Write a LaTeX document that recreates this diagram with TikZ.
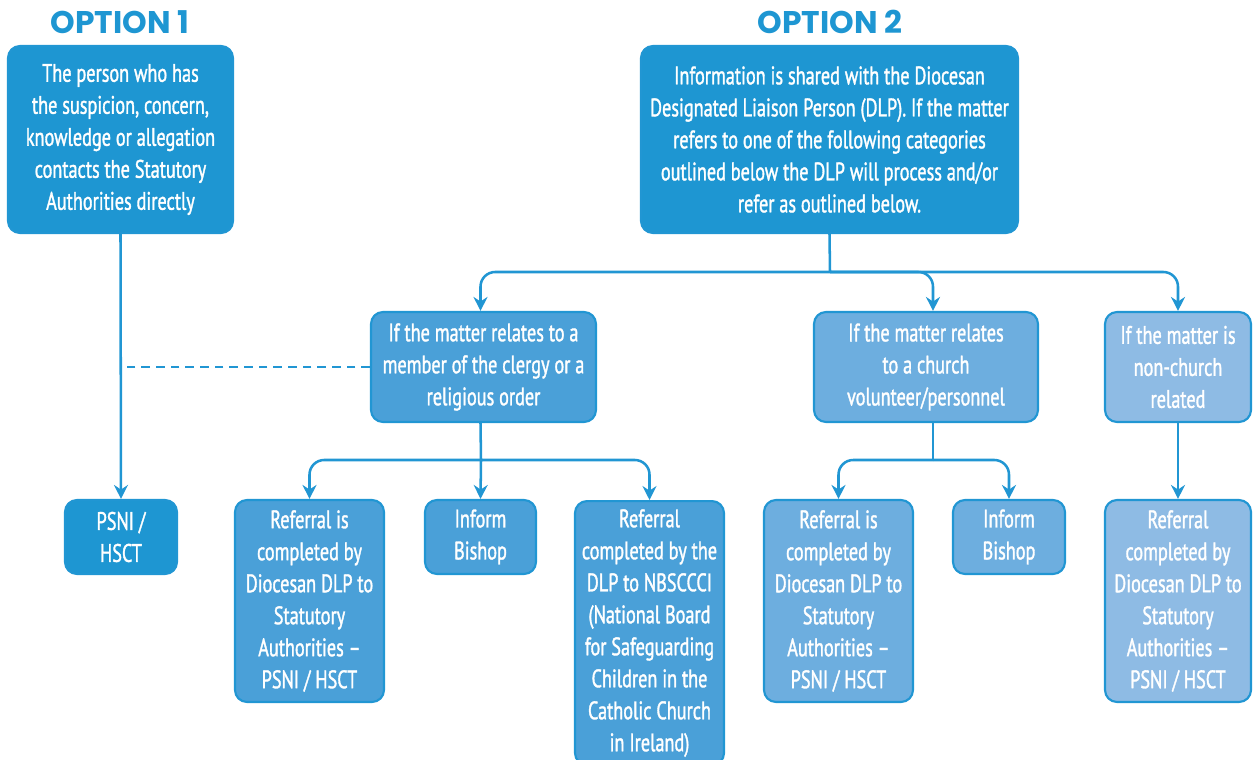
\documentclass[tikz,border=0pt]{standalone}
\usepackage{fontspec}
\newfontfamily\cond[FakeStretch=0.72,FakeBold=1.3]{PT Sans}
\newfontfamily\titlefont{Poppins}[UprightFont=* Bold]
\usetikzlibrary{arrows.meta}
\definecolor{cA}{HTML}{1E96D2}
\definecolor{cB}{HTML}{4AA0D8}
\definecolor{cC}{HTML}{6DAEDF}
\definecolor{cD}{HTML}{8EBBE4}
\definecolor{lc}{HTML}{2196D3}
\tikzset{
  box/.style 2 args={rounded corners=9pt, draw=lc, line width=1.6pt, text=white, align=center,
    inner sep=0pt, minimum width=#1*0.75pt, minimum height=#2*0.75pt,
    font=\cond\fontsize{19}{24}\selectfont},
  ttl/.style={text=cA, font=\titlefont\fontsize{23.5}{27}\selectfont, inner sep=0pt},
  conn/.style={draw=lc, line width=1.9pt, rounded corners=11pt},
  arr/.style={conn, -{Stealth[length=10.5pt,width=10.5pt,inset=3.5pt]}},
  dsh/.style={draw=lc, line width=2.2pt, dash pattern=on 6.5pt off 4.5pt}
}
\begin{document}
\begin{tikzpicture}[x=0.75pt,y=-0.75pt]
\useasboundingbox (0,0) rectangle (1253,760);
\node[ttl] (t1) at (120,22) {OPTION 1};
\node[ttl] (t2) at (830,22) {OPTION 2};
\node[box={225}{187}, fill=cA] (A) at (120.5,139.5) {The person who has\\the suspicion, concern,\\knowledge or allegation\\contacts the Statutory\\Authorities directly};
\node[box={377}{187}, fill=cA] (B) at (829.5,139.5) {Information is shared with the Diocesan\\Designated Liaison Person (DLP). If the matter\\refers to one of the following categories\\outlined below the DLP will process and/or\\refer as outlined below.};
\node[box={112}{74}, fill=cA] (P) at (121,537) {PSNI /\\HSCT};
\node[box={225}{110}, fill=cB] (C) at (483.5,367) {If the matter relates to a\\member of the clergy or a\\religious order};
\node[box={224}{110}, fill=cC] (D) at (926,367) {If the matter relates\\to a church\\volunteer/personnel};
\node[box={146}{110}, fill=cD] (E) at (1178,367) {If the matter is\\non-church\\related};
\node[box={149}{202}, fill=cB] (F) at (309.5,601) {Referral is\\completed by\\Diocesan DLP to\\Statutory\\Authorities –\\PSNI / HSCT};
\node[box={111}{74}, fill=cB] (G) at (480.5,537) {Inform\\Bishop};
\node[box={149}{264}, fill=cB, anchor=north] (H) at (649.5,500) {Referral\\completed by the\\DLP to NBSCCCI\\(National Board\\for Safeguarding\\Children in the\\Catholic Church\\in Ireland)};
\node[box={149}{202}, fill=cC] (I) at (838.5,601) {Referral is\\completed by\\Diocesan DLP to\\Statutory\\Authorities –\\PSNI / HSCT};
\node[box={112}{74}, fill=cC] (J) at (1009,537) {Inform\\Bishop};
\node[box={146}{202}, fill=cD] (K) at (1178,601) {Referral\\completed by\\Diocesan DLP to\\Statutory\\Authorities –\\PSNI / HSCT};
% option 1
\draw[arr] (A.south) -- (P.north);
\draw[dsh] (C.west) -- (C.west -| P.north);
% option 2 split
\coordinate (b1) at (830,272);
\draw[conn] (B.south) -- (b1);
\draw[arr] (b1) -| (C.north -| G.north);
\draw[arr] (b1) -| ([xshift=5.25pt]D.north);
\draw[arr] (b1) -| (E.north);
% clergy split
\coordinate (c1) at (481,460);
\draw[conn] (C.south -| G.north) -- (c1);
\draw[arr] (c1) -| (F.north);
\draw[arr] (c1) -- (G.north);
\draw[arr] (c1) -| (H.north);
% volunteer split
\coordinate (d1) at (933,460);
\draw[conn] ([xshift=5.25pt]D.south) -- (d1);
\draw[arr] (d1) -| (I.north);
\draw[arr] (d1) -| (J.north);
% non-church
\draw[arr] (E.south) -- (K.north);
\end{tikzpicture}
\end{document}
